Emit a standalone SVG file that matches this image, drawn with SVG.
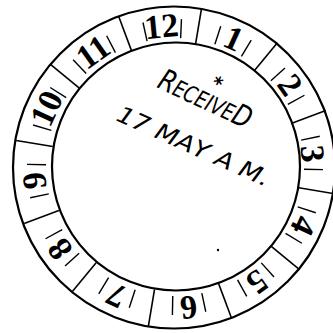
<svg xmlns="http://www.w3.org/2000/svg" width="333" height="333" viewBox="0 0 333 333">
<style>
.ring{fill:none;stroke:#000;stroke-width:2.2}
.div{stroke:#000;stroke-width:1.6}
.bar{stroke:#000;stroke-width:1.4}
.num{font-family:"Liberation Serif","Times New Roman",serif;font-weight:bold;font-size:34px;text-anchor:middle;fill:#000}
.st{font-family:"DejaVu Sans Condensed","DejaVu Sans",sans-serif;font-style:oblique;fill:#000}
</style>
<rect width="333" height="333" fill="#fff"/>
<g id="dial">
<circle class="ring" cx="174" cy="167.5" r="161"/>
<circle class="ring" cx="176" cy="166.5" r="124"/>
</g>
<g id="dividers">
<line class="div" x1="175" y1="6" x2="175" y2="43" transform="rotate(9.5 175 167)"/>
<line class="div" x1="175" y1="6" x2="175" y2="43" transform="rotate(39.5 175 167)"/>
<line class="div" x1="175" y1="6" x2="175" y2="43" transform="rotate(69.5 175 167)"/>
<line class="div" x1="175" y1="6" x2="175" y2="43" transform="rotate(99.5 175 167)"/>
<line class="div" x1="175" y1="6" x2="175" y2="43" transform="rotate(129.5 175 167)"/>
<line class="div" x1="175" y1="6" x2="175" y2="43" transform="rotate(159.5 175 167)"/>
<line class="div" x1="175" y1="6" x2="175" y2="43" transform="rotate(189.5 175 167)"/>
<line class="div" x1="175" y1="6" x2="175" y2="43" transform="rotate(219.5 175 167)"/>
<line class="div" x1="175" y1="6" x2="175" y2="43" transform="rotate(249.5 175 167)"/>
<line class="div" x1="175" y1="6" x2="175" y2="43" transform="rotate(279.5 175 167)"/>
<line class="div" x1="175" y1="6" x2="175" y2="43" transform="rotate(309.5 175 167)"/>
<line class="div" x1="175" y1="6" x2="175" y2="43" transform="rotate(339.5 175 167)"/>
</g>
<g id="bars">
<line class="bar" x1="175" y1="19" x2="175" y2="38" transform="rotate(-12.5 175 167)"/>
<line class="bar" x1="175" y1="19" x2="175" y2="38" transform="rotate(2.5 175 167)"/>
<line class="bar" x1="175" y1="19" x2="175" y2="38" transform="rotate(18 175 167)"/>
<line class="bar" x1="175" y1="19" x2="175" y2="38" transform="rotate(31 175 167)"/>
<line class="bar" x1="175" y1="19" x2="175" y2="38" transform="rotate(48 175 167)"/>
<line class="bar" x1="175" y1="19" x2="175" y2="38" transform="rotate(61 175 167)"/>
<line class="bar" x1="175" y1="19" x2="175" y2="38" transform="rotate(78 175 167)"/>
<line class="bar" x1="175" y1="19" x2="175" y2="38" transform="rotate(91 175 167)"/>
<line class="bar" x1="175" y1="19" x2="175" y2="38" transform="rotate(108 175 167)"/>
<line class="bar" x1="175" y1="19" x2="175" y2="38" transform="rotate(121 175 167)"/>
<line class="bar" x1="175" y1="19" x2="175" y2="38" transform="rotate(138 175 167)"/>
<line class="bar" x1="175" y1="19" x2="175" y2="38" transform="rotate(151 175 167)"/>
<line class="bar" x1="175" y1="19" x2="175" y2="38" transform="rotate(168 175 167)"/>
<line class="bar" x1="175" y1="19" x2="175" y2="38" transform="rotate(181 175 167)"/>
<line class="bar" x1="175" y1="19" x2="175" y2="38" transform="rotate(198 175 167)"/>
<line class="bar" x1="175" y1="19" x2="175" y2="38" transform="rotate(211 175 167)"/>
<line class="bar" x1="175" y1="19" x2="175" y2="38" transform="rotate(228 175 167)"/>
<line class="bar" x1="175" y1="19" x2="175" y2="38" transform="rotate(241 175 167)"/>
<line class="bar" x1="175" y1="19" x2="175" y2="38" transform="rotate(258 175 167)"/>
<line class="bar" x1="175" y1="19" x2="175" y2="38" transform="rotate(271 175 167)"/>
<line class="bar" x1="175" y1="19" x2="175" y2="38" transform="rotate(286.5 175 167)"/>
<line class="bar" x1="175" y1="19" x2="175" y2="38" transform="rotate(302.5 175 167)"/>
<line class="bar" x1="175" y1="19" x2="175" y2="38" transform="rotate(316.5 175 167)"/>
<line class="bar" x1="175" y1="19" x2="175" y2="38" transform="rotate(332.5 175 167)"/>
</g>
<g id="numbers">
<text class="num" x="175" y="37" transform="rotate(-5.5 175 167)">12</text>
<text class="num" x="175" y="37" transform="rotate(24.5 175 167)">1</text>
<text class="num" x="175" y="37" transform="rotate(54.5 175 167)">2</text>
<text class="num" x="175" y="40" transform="rotate(84.5 175 167)">3</text>
<text class="num" x="175" y="37" transform="rotate(114.5 175 167)">4</text>
<text class="num" x="175" y="37" transform="rotate(144.5 175 167)">5</text>
<text class="num" x="175" y="37" transform="rotate(174.5 175 167)">6</text>
<text class="num" x="175" y="37" transform="rotate(204.5 175 167)">7</text>
<text class="num" x="175" y="37" transform="rotate(234.5 175 167)">8</text>
<text class="num" x="175" y="37" transform="rotate(264.5 175 167)">9</text>
<text class="num" x="175" y="37" transform="rotate(294.5 175 167)">10</text>
<text class="num" x="175" y="37" transform="rotate(324.5 175 167)">11</text>
</g>
<g id="stamp">
<text class="st" font-size="20" font-weight="bold" transform="translate(210 88) rotate(25)">*</text>
<text class="st" transform="translate(156 87) rotate(25) scale(0.75 1)" textLength="133" lengthAdjust="spacingAndGlyphs"><tspan font-size="30">R</tspan><tspan font-size="23">ECEIVE</tspan><tspan font-size="30">D</tspan></text>
<text class="st" font-size="23" transform="translate(115 120) rotate(24) scale(0.8 1)" textLength="206" lengthAdjust="spacingAndGlyphs">17 MAY A M.</text>
<circle cx="218" cy="250" r="1.2" fill="#000"/>
</g>
</svg>
